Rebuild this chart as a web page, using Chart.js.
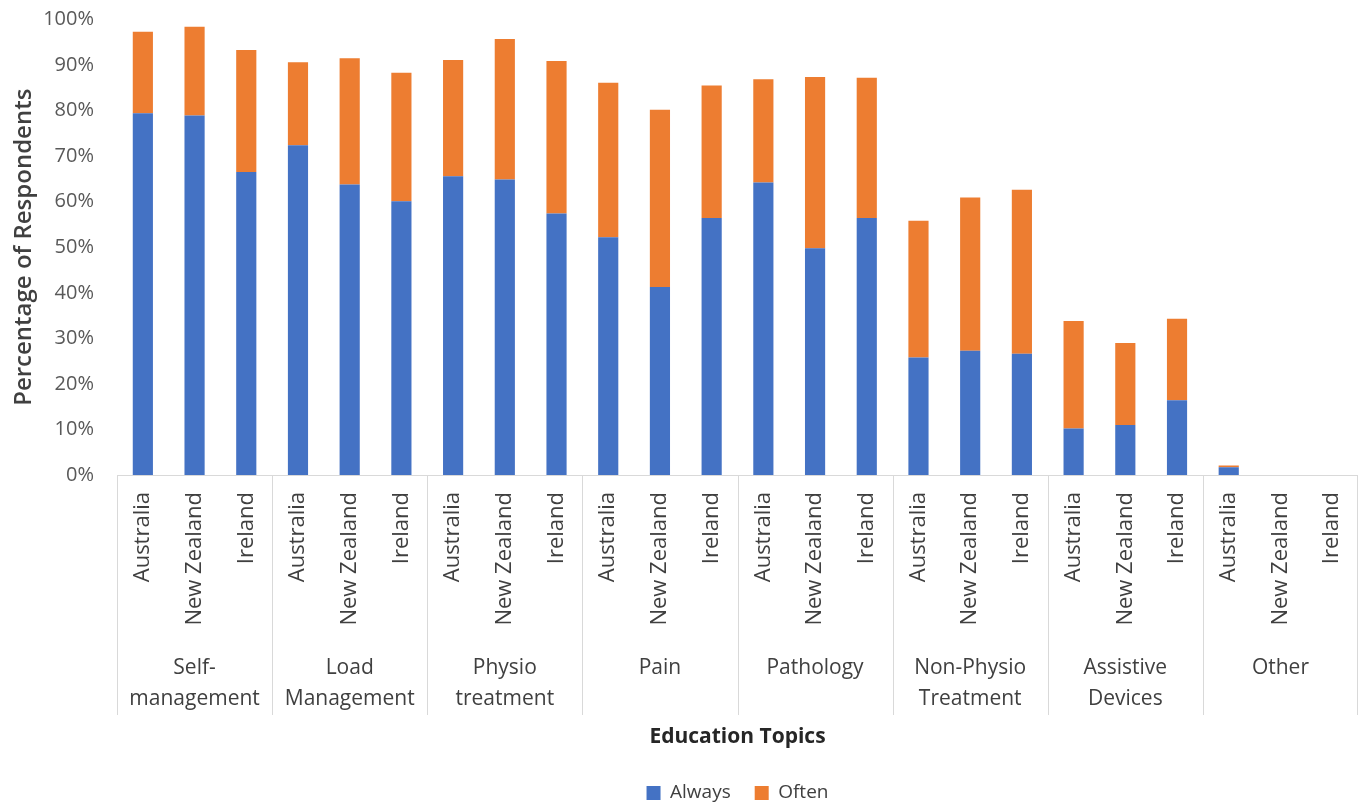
<!DOCTYPE html>
<html>
<head>
<meta charset="utf-8">
<script src="https://cdn.jsdelivr.net/npm/chart.js@4/dist/chart.umd.min.js"></script>
<style>
  html, body { margin: 0; padding: 0; background: #ffffff; }
  #wrap { width: 1358px; height: 806px; }
</style>
</head>
<body>
<div id="wrap"><canvas id="chart" width="1358" height="806"></canvas></div>
<script>
// Education topics (outer axis level) and countries (inner level)
const topics = [
  ["Self-", "management"],
  ["Load", "Management"],
  ["Physio", "treatment"],
  ["Pain"],
  ["Pathology"],
  ["Non-Physio", "Treatment"],
  ["Assistive", "Devices"],
  ["Other"]
];
const countries = ["Australia", "New Zealand", "Ireland"];

// Percentage of respondents, one value per topic/country pair
const always = [
  79.4, 78.9, 66.5,
  72.4, 63.8, 60.1,
  65.6, 64.9, 57.4,
  52.2, 41.3, 56.4,
  64.2, 49.8, 56.4,
  25.8, 27.3, 26.6,
  10.2, 11.0, 16.4,
  1.7, 0, 0
];
const often = [
  17.9, 19.5, 26.8,
  18.2, 27.7, 28.2,
  25.5, 30.8, 33.5,
  33.9, 38.9, 29.1,
  22.7, 37.6, 30.8,
  30.0, 33.6, 36.0,
  23.6, 18.0, 17.9,
  0.4, 0, 0
];

const seriesNames = ["Always", "Often"];
const yAxisTitle = "Percentage of Respondents";
const xAxisTitle = "Education Topics";

const categories = [];
topics.forEach(() => countries.forEach(c => categories.push(c)));
const topicLabels = topics.map(t => t.length === 1 ? t[0] : t);

const FONT = "'Open Sans', sans-serif";

// Vertical separators between topic groups, spanning both label rows
const groupSeparators = {
  id: 'groupSeparators',
  afterDraw(chart) {
    const x = chart.scales.x;
    const x2 = chart.scales.x2;
    const ctx = chart.ctx;
    const y0 = chart.chartArea.bottom;
    const y1 = x2.top + 70;
    ctx.save();
    ctx.strokeStyle = '#d9d9d9';
    ctx.lineWidth = 1;
    for (let g = 0; g <= topics.length; g++) {
      let px = Math.round(x.getPixelForValue(g * countries.length - 0.5)) + 0.5;
      px = Math.min(px, chart.width - 0.5);
      ctx.beginPath();
      ctx.moveTo(px, y0);
      ctx.lineTo(px, y1);
      ctx.stroke();
    }
    ctx.restore();
  }
};

// Axes take no extra edge padding, so the plot fills its box exactly
function noSidePadding(scale) {
  scale.paddingLeft = 0;
  scale.paddingRight = 0;
}
function noEndPadding(scale) {
  scale.paddingTop = 0;
  scale.paddingBottom = 0;
}

new Chart(document.getElementById('chart'), {
  type: 'bar',
  data: {
    labels: categories,
    datasets: [
      { label: seriesNames[0], data: always, backgroundColor: '#4472c4', stack: 's' },
      { label: seriesNames[1], data: often, backgroundColor: '#ed7d31', stack: 's' }
    ]
  },
  options: {
    responsive: false,
    animation: false,
    devicePixelRatio: 1,
    layout: { padding: { top: 19.5, right: 0, left: 0, bottom: 0 } },
    datasets: { bar: { categoryPercentage: 1.0, barPercentage: 0.39 } },
    scales: {
      x: {
        stacked: true,
        offset: true,
        weight: 0,
        grid: { display: false, drawTicks: false },
        border: { display: true, color: '#d9d9d9', width: 1 },
        ticks: {
          autoSkip: false,
          minRotation: 90,
          maxRotation: 90,
          padding: 17,
          color: '#404040',
          font: { family: FONT, size: 22 }
        },
        afterFit(scale) { scale.height = 170; noSidePadding(scale); }
      },
      x2: {
        type: 'category',
        labels: topicLabels,
        position: 'bottom',
        offset: true,
        weight: 1,
        grid: { display: false, drawTicks: false },
        border: { display: false },
        ticks: {
          autoSkip: false,
          maxRotation: 0,
          minRotation: 0,
          padding: 8,
          color: '#404040',
          font: { family: FONT, size: 21, lineHeight: '31px' }
        },
        title: {
          display: true,
          text: xAxisTitle,
          color: '#262626',
          font: { family: FONT, size: 21, weight: 'bold' },
          padding: { top: 0, bottom: 10 }
        },
        afterFit(scale) { scale.height = 114.5; noSidePadding(scale); }
      },
      y: {
        stacked: true,
        min: 0,
        max: 100,
        grid: { display: false, drawTicks: false },
        border: { display: false },
        ticks: {
          stepSize: 10,
          padding: 23,
          color: '#595959',
          font: { family: FONT, size: 20 },
          callback: v => v + '%'
        },
        title: {
          display: true,
          text: yAxisTitle,
          color: '#404040',
          font: { family: FONT, size: 24, weight: '600' },
          padding: { top: 10, bottom: 0 }
        },
        afterFit(scale) { scale.width = 117; noEndPadding(scale); }
      }
    },
    plugins: {
      legend: {
        position: 'bottom',
        fullSize: false,
        maxHeight: 46.5,
        labels: {
          boxWidth: 14,
          boxHeight: 14,
          padding: 24,
          color: '#404040',
          font: { family: FONT, size: 19 }
        }
      },
      tooltip: { enabled: false }
    }
  },
  plugins: [groupSeparators]
});
</script>
</body>
</html>
